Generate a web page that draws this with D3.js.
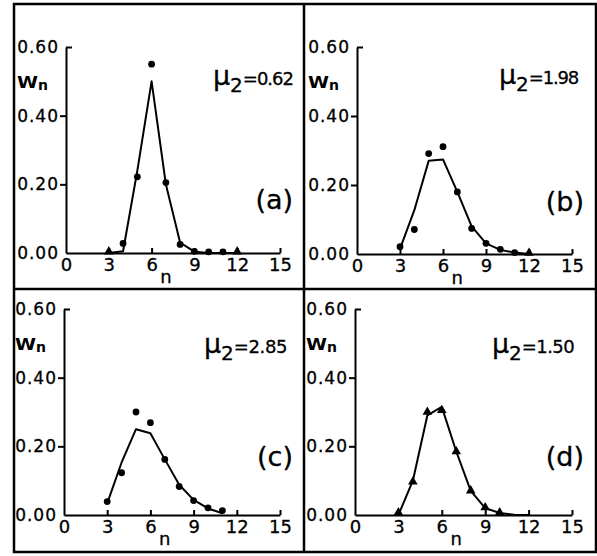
<!DOCTYPE html>
<html>
<head>
<meta charset="utf-8">
<script src="https://cdn.jsdelivr.net/npm/d3@7"></script>
<style>
  body { margin: 0; background: #fff; }
  svg { display: block; font-family: "DejaVu Sans", sans-serif; }
</style>
</head>
<body>
<script>
// ---------- data ----------
const xTicks = [0, 3, 6, 9, 12, 15];
const yTicks = [0.00, 0.20, 0.40, 0.60];
const yTickLabels = ["0.00", "0.20", "0.40", "0.60"];
const panelIds = ["a", "b", "c", "d"];
const panelLetters = ["(a)", "(b)", "(c)", "(d)"];
const mu2Values = ["0.62", "1.98", "2.85", "1.50"];

// panel (a)
const aLineN = [3, 4, 5, 6, 7, 8, 9, 10, 11, 12];
const aLineW = [0.0, 0.005, 0.24, 0.50, 0.20, 0.03, 0.004, 0.0, 0.0, 0.0];
const aDotN  = [4, 5, 6, 7, 8, 9, 10, 11];
const aDotW  = [0.028, 0.222, 0.55, 0.205, 0.025, 0.005, 0.003, 0.003];
const aTriN  = [3, 12];
const aTriW  = [0.004, 0.004];

// panel (b)
const bLineN = [3, 4, 5, 6, 7, 8, 9, 10, 11, 12];
const bLineW = [0.015, 0.127, 0.27, 0.274, 0.18, 0.08, 0.031, 0.012, 0.004, 0.0];
const bDotN  = [3, 4, 5, 6, 7, 8, 9, 10, 11];
const bDotW  = [0.021, 0.071, 0.291, 0.311, 0.180, 0.074, 0.031, 0.0135, 0.004];
const bTriN  = [12];
const bTriW  = [0.003];

// panel (c)
const cLineN = [3, 4, 5, 6, 7, 8, 9, 10, 11];
const cLineW = [0.034, 0.153, 0.25, 0.238, 0.162, 0.088, 0.044, 0.019, 0.005];
const cDotN  = [3, 4, 5, 6, 7, 8, 9, 10, 11];
const cDotW  = [0.039, 0.123, 0.30, 0.269, 0.162, 0.083, 0.042, 0.021, 0.013];
const cTriN  = [];
const cTriW  = [];

// panel (d)
const dLineN = [3, 4, 5, 6, 7, 8, 9, 10, 11, 12];
const dLineW = [0.0, 0.10, 0.29, 0.315, 0.185, 0.07, 0.02, 0.006, 0.001, 0.0];
const dDotN  = [];
const dDotW  = [];
const dTriN  = [3, 4, 5, 6, 7, 8, 9, 10];
const dTriW  = [0.007, 0.097, 0.30, 0.305, 0.185, 0.071, 0.022, 0.007];

const series = {
  a: {lineN: aLineN, lineW: aLineW, dotN: aDotN, dotW: aDotW, triN: aTriN, triW: aTriW},
  b: {lineN: bLineN, lineW: bLineW, dotN: bDotN, dotW: bDotW, triN: bTriN, triW: bTriW},
  c: {lineN: cLineN, lineW: cLineW, dotN: cDotN, dotW: cDotW, triN: cTriN, triW: cTriW},
  d: {lineN: dLineN, lineW: dLineW, dotN: dDotN, dotW: dDotW, triN: dTriN, triW: dTriW}
};

// ---------- layout ----------
const W = 597, H = 556;
const layout = {
  a: {x0: 66,  x1: 280, y0: 253, y1: 47,  letter: [293, 209], mu: [293, 85], muLS: -1.0},
  b: {x0: 357, x1: 572, y0: 254, y1: 47,  letter: [584, 211], mu: [578, 84], muLS: -1.2},
  c: {x0: 64,  x1: 280, y0: 515, y1: 309, letter: [293, 466], mu: [287, 353], muLS: -0.4},
  d: {x0: 355, x1: 572, y0: 515, y1: 309, letter: [584, 466], mu: [574, 353], muLS: -0.6}
};

const svg = d3.select("body").append("svg").attr("width", W).attr("height", H);
svg.append("rect").attr("width", W).attr("height", H).attr("fill", "#fff");

// frame
const frame = svg.append("g").attr("stroke", "#000").attr("fill", "none");
frame.append("rect").attr("x", 14).attr("y", 4).attr("width", 582).attr("height", 548).attr("stroke-width", 2.5);
frame.append("line").attr("x1", 304).attr("x2", 304).attr("y1", 4).attr("y2", 552).attr("stroke-width", 2.5);
frame.append("line").attr("x1", 14).attr("x2", 596).attr("y1", 289).attr("y2", 289).attr("stroke-width", 2.5);

panelIds.forEach((id, i) => {
  const L = layout[id];
  const S = series[id];
  const x = d3.scaleLinear().domain([0, 15]).range([L.x0, L.x1]);
  const y = d3.scaleLinear().domain([0, 0.6]).range([L.y0, L.y1]);
  const g = svg.append("g");

  // x axis (ticks pointing up)
  const gx = g.append("g").attr("transform", `translate(0,${L.y0})`)
    .call(d3.axisBottom(x).tickValues(xTicks).tickSizeInner(-5).tickSizeOuter(0).tickPadding(5).tickFormat(d3.format("d")));
  gx.select(".domain").attr("stroke-width", 2);
  gx.selectAll(".tick line").attr("stroke-width", 2).filter(d => d === 0).remove();
  gx.selectAll(".tick text").attr("font-size", 18).attr("fill", "#000")
    .attr("font-family", "DejaVu Sans").attr("stroke", "#000").attr("stroke-width", 0.3);

  // y axis
  const gy = g.append("g").attr("transform", `translate(${L.x0},0)`)
    .call(d3.axisLeft(y).tickValues(yTicks).tickSizeInner(6).tickSizeOuter(0).tickPadding(1)
      .tickFormat((d, k) => yTickLabels[k]));
  gy.select(".domain").attr("stroke-width", 2);
  gy.selectAll(".tick line").attr("stroke-width", 2)
    .attr("x2", d => d === 0.6 ? 6 : -6)
    .filter(d => d === 0).remove();
  gy.selectAll(".tick text").attr("font-size", 17).attr("fill", "#000")
    .attr("letter-spacing", 1.0).attr("font-family", "DejaVu Sans")
    .attr("stroke", "#000").attr("stroke-width", 0.3);

  // axis titles
  g.append("text").attr("x", L.x0 - 49).attr("y", L.y1 + 41)
    .attr("font-size", 16).attr("font-weight", "bold")
    .attr("textLength", 21).attr("lengthAdjust", "spacingAndGlyphs").text("W");
  g.append("text").attr("x", L.x0 - 28).attr("y", L.y1 + 43)
    .attr("font-size", 14).attr("font-weight", "bold").text("n");

  g.append("text").attr("x", x(7)).attr("y", L.y0 + 30)
    .attr("text-anchor", "middle").attr("font-size", 18)
    .attr("stroke", "#000").attr("stroke-width", 0.3).text("n");

  // theory line
  const pts = S.lineN.map((n, k) => [n, S.lineW[k]]);
  g.append("path").datum(pts)
    .attr("d", d3.line().x(d => x(d[0])).y(d => y(d[1])))
    .attr("fill", "none").attr("stroke", "#000").attr("stroke-width", 2)
    .attr("stroke-linejoin", "round");

  // dots
  g.selectAll(".dot").data(S.dotN.map((n, k) => [n, S.dotW[k]])).join("circle")
    .attr("cx", d => x(d[0])).attr("cy", d => y(d[1])).attr("r", 3.4).attr("fill", "#000");

  // triangles
  const tri = d3.symbol().type(d3.symbolTriangle).size(40);
  g.selectAll(".tri").data(S.triN.map((n, k) => [n, S.triW[k]])).join("path")
    .attr("d", tri).attr("transform", d => `translate(${x(d[0])},${y(d[1])})`).attr("fill", "#000");

  // mu label
  const mu = g.append("text").attr("x", L.mu[0]).attr("y", L.mu[1]).attr("text-anchor", "end")
    .attr("stroke", "#000").attr("stroke-width", 0.3);
  mu.append("tspan").attr("font-size", 27).text("μ");
  mu.append("tspan").attr("font-size", 20).attr("dy", 7).text("2");
  mu.append("tspan").attr("font-size", 18).attr("dy", -7).attr("letter-spacing", L.muLS).text("=" + mu2Values[i]);

  // panel letter
  g.append("text").attr("x", L.letter[0]).attr("y", L.letter[1]).attr("text-anchor", "end")
    .attr("font-size", 27).attr("stroke", "#000").attr("stroke-width", 0.3).text(panelLetters[i]);
});
</script>
</body>
</html>
